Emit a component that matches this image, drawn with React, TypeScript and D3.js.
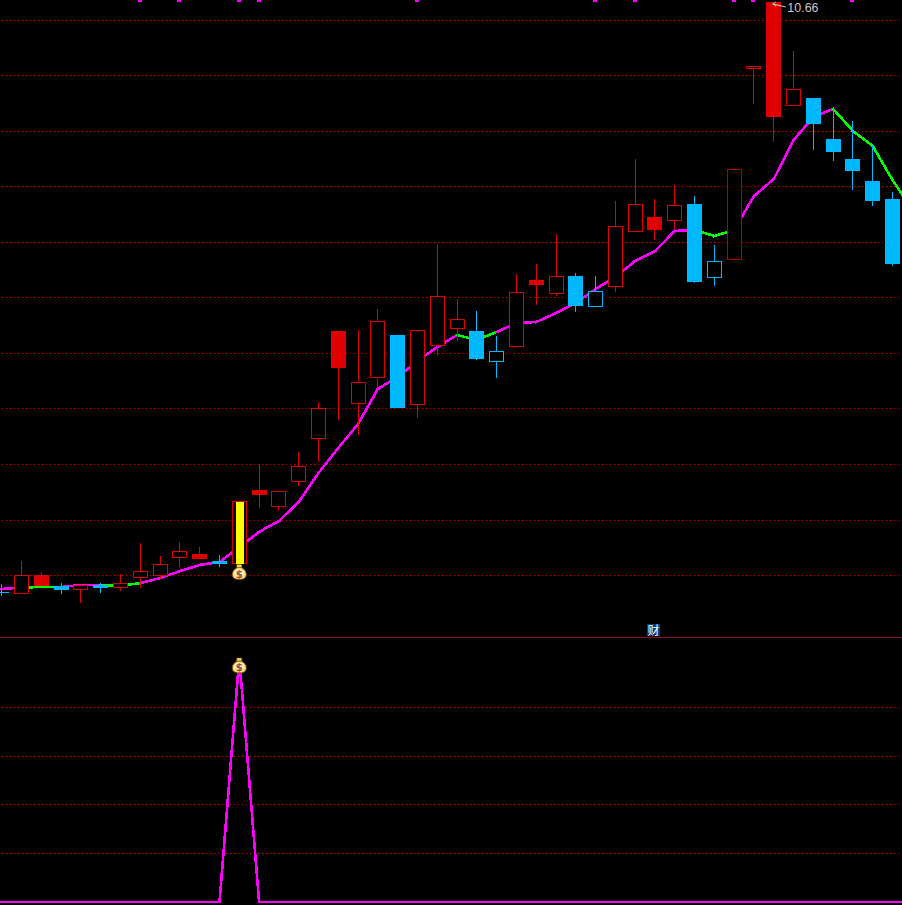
import * as d3 from "d3";

const W = 902;
const H = 905;

// one entry per bar, left to right
const open = [4.76, 4.75, 4.93, 4.82, 4.79, 4.83, 4.81, 4.91, 4.93, 5.11, 5.14, 5.07, 5.05, 5.78, 5.62, 5.87, 6.3, 7.37, 6.65, 6.91, 7.33, 6.64, 7.23, 7.4, 7.37, 7.07, 7.22, 7.88, 7.75, 7.92, 7.62, 7.82, 8.37, 8.51, 8.48, 8.64, 7.91, 8.09, 10.0, 10.66, 9.63, 9.7, 9.29, 9.09, 8.87, 8.69];
const close = [4.76, 4.93, 4.82, 4.78, 4.83, 4.8, 4.85, 4.97, 5.04, 5.17, 5.09, 5.04, 5.67, 5.73, 5.77, 6.02, 6.6, 7.0, 6.86, 7.47, 6.6, 7.38, 7.72, 7.49, 7.09, 7.17, 7.76, 7.83, 7.92, 7.62, 7.77, 8.42, 8.64, 8.38, 8.63, 7.86, 8.07, 8.99, 10.02, 9.51, 9.79, 9.44, 9.16, 8.97, 8.67, 8.04];
const high = [4.84, 5.07, 4.96, 4.85, 4.83, 4.85, 4.94, 5.25, 5.12, 5.26, 5.21, 5.13, 5.67, 6.04, 5.77, 6.16, 6.66, 7.37, 7.38, 7.59, 7.33, 7.38, 8.24, 7.69, 7.57, 7.32, 7.94, 8.04, 8.34, 7.95, 7.92, 8.67, 9.09, 8.69, 8.83, 8.72, 8.23, 8.99, 10.02, 10.66, 10.17, 9.7, 9.59, 9.47, 9.23, 8.76];
const low = [4.72, 4.75, 4.82, 4.74, 4.65, 4.75, 4.77, 4.8, 4.89, 5.01, 5.09, 5.01, 5.05, 5.6, 5.57, 5.82, 6.06, 6.48, 6.33, 6.79, 6.6, 6.5, 7.12, 7.27, 7.08, 6.9, 7.22, 7.63, 7.72, 7.56, 7.62, 7.76, 8.37, 8.28, 8.39, 7.85, 7.82, 8.09, 9.64, 9.26, 9.63, 9.18, 9.07, 8.78, 8.62, 8.02];

const blueBars = [0, 3, 5, 11, 20, 24, 25, 29, 30, 35, 36, 41, 42, 43, 44, 45];
const signalBar = 12;
const dimBar = 37;

// moving line runs one step past the last visible bar
const ma = [4.79, 4.805, 4.81, 4.81, 4.83, 4.83, 4.82, 4.85, 4.9, 4.97, 5.03, 5.06, 5.21, 5.36, 5.47, 5.66, 5.95, 6.2, 6.44, 6.79, 6.91, 7.07, 7.21, 7.33, 7.28, 7.36, 7.45, 7.46, 7.55, 7.65, 7.79, 7.91, 8.07, 8.17, 8.37, 8.38, 8.32, 8.38, 8.72, 8.89, 9.28, 9.51, 9.59, 9.37, 9.22, 8.88, 8.58];
const greenSegments = [1, 2, 5, 6, 23, 24, 35, 36, 42, 43, 44, 45];

const signal = [0, 0, 0, 0, 0, 0, 0, 0, 0, 0, 0, 0, 5, 0, 0, 0, 0, 0, 0, 0, 0, 0, 0, 0, 0, 0, 0, 0, 0, 0, 0, 0, 0, 0, 0, 0, 0, 0, 0, 0, 0, 0, 0, 0, 0, 0, 0];

const markerBars = [7, 9, 12, 13, 21, 30, 32, 37, 38, 43];
const priceGrid = [10.48, 9.93, 9.37, 8.82, 8.26, 7.71, 7.15, 6.6, 6.04, 5.48, 4.93];
const signalGrid = [1, 2, 3, 4];
const maxLabel = "10.66";

const RED = "#e00000";
const BLUE = "#00b8ff";
const GRID = "#b40000";

const x = d3.scaleLinear().domain([0, 46]).range([1.75, 912.32]);
const y = d3.scaleLinear().domain([10.68, 4.68]).range([0, 600]);
const y2 = d3.scaleLinear().domain([0, 5]).range([902, 658]);

const bx = (i: number) => Math.floor(x(i));
const row = (v: number) => Math.round(v) + 0.5;

const maLine = d3
  .line<number>()
  .x((d) => x(d))
  .y((d) => y(ma[d]));

const signalLine = d3.line<number>(
  (_, i) => x(i),
  (d) => y2(d),
);

function Candle({ i }: { i: number }) {
  const isBlue = blueBars.includes(i);
  const hollow = close[i] > open[i];
  const color = isBlue ? BLUE : i === dimBar ? "#b00000" : RED;
  const cx = bx(i);
  const top = Math.round(y(Math.max(open[i], close[i])));
  const bottom = Math.round(y(Math.min(open[i], close[i])));
  return (
    <g shapeRendering="crispEdges">
      <line x1={cx + 0.5} x2={cx + 0.5} y1={y(high[i])} y2={y(low[i])} stroke={color} strokeWidth={1} />
      {hollow ? (
        <rect x={cx - 6.5} y={top + 0.5} width={14} height={bottom - top} fill="#000" stroke={color} strokeWidth={1} />
      ) : (
        <rect x={cx - 7} y={top} width={15} height={Math.max(bottom - top, 1)} fill={color} />
      )}
      {i === signalBar && <rect x={cx - 3} y={top + 1} width={8} height={bottom - top} fill="#ffff00" />}
    </g>
  );
}

function MoneyBag({ cx, cy }: { cx: number; cy: number }) {
  return (
    <g transform={`translate(${cx},${cy})`}>
      <path d="M-2,-5 L2,-5 C6,-3 7.5,0 7,3 C6.5,6.5 3,7 0,7 C-3,7 -6.5,6.5 -7,3 C-7.5,0 -6,-3 -2,-5 Z" fill="url(#bagFill)" stroke="#6a4010" strokeWidth={0.9} />
      <rect x={-2.5} y={-8} width={5} height={3} fill="#f6d83c" stroke="#8a5a20" strokeWidth={0.6} />
      <text x={0} y={5} textAnchor="middle" fontFamily="DejaVu Sans" fontSize={10} fontWeight="bold" fill="#964a3a">
        $
      </text>
    </g>
  );
}

export default function App() {
  const bars = d3.range(open.length);
  const maxBar = high.indexOf(d3.max(high) as number);
  const peakX = x(maxBar);
  const peakY = y(high[maxBar]);

  return (
    <>
      <style>{"html,body{margin:0;padding:0;background:#000}"}</style>
      <svg width={W} height={H} viewBox={`0 0 ${W} ${H}`} style={{ display: "block", background: "#000" }}>
        <defs>
          <radialGradient id="bagFill">
            <stop offset="0%" stopColor="#fff6d0" />
            <stop offset="65%" stopColor="#fdeea8" />
            <stop offset="100%" stopColor="#f2c448" />
          </radialGradient>
        </defs>

        {/* grid */}
        <g stroke={GRID} strokeWidth={1} strokeDasharray="1 3">
          {priceGrid.map((p) => (
            <line key={p} x1={2} x2={W} y1={row(y(p))} y2={row(y(p))} />
          ))}
          {signalGrid.map((v) => (
            <line key={v} x1={2} x2={W} y1={row(y2(v))} y2={row(y2(v))} />
          ))}
        </g>
        <line x1={0} x2={W} y1={637.5} y2={637.5} stroke="#8c1010" />

        {/* top markers */}
        <g fill="#ff00ff" shapeRendering="crispEdges">
          {markerBars.map((b) => (
            <rect key={b} x={bx(b) - 2} y={0} width={4} height={2} />
          ))}
        </g>

        {/* moving line */}
        <g fill="none" strokeWidth={2.6} shapeRendering="crispEdges">
          {ma.slice(1).map((_, s) => (
            <path key={s} d={maLine([s, s + 1]) as string} stroke={greenSegments.includes(s) ? "#00ff00" : "#ff00ff"} strokeLinecap="square" />
          ))}
        </g>

        {bars.map((i) => (
          <Candle key={i} i={i} />
        ))}

        <MoneyBag cx={x(signalBar)} cy={y(low[signalBar]) + 9.5} />

        {/* highest price */}
        <g>
          <path d={`M${peakX + 12},${peakY + 5} L${peakX - 1},${peakY + 2} M${peakX - 1},${peakY + 2} L${peakX + 2},${peakY} M${peakX - 1},${peakY + 2} L${peakX + 2},${peakY + 4}`} stroke="#d0d0d0" fill="none" strokeWidth={1} />
          <text x={peakX + 13.5} y={12} fontFamily="Liberation Sans" fontSize={12.5} fill="#c8c8c8">
            {maxLabel}
          </text>
        </g>

        {/* tag on the divider */}
        <rect x={647} y={624} width={13} height={12} fill="#0a3c78" shapeRendering="crispEdges" />
        <text x={653.5} y={634.5} textAnchor="middle" fontFamily="Noto Sans CJK SC" fontSize={12} fill="#fff">
          财
        </text>

        {/* lower pane */}
        <path d={signalLine(signal) as string} fill="none" stroke="#ff00ff" strokeWidth={2.6} strokeLinecap="square" shapeRendering="crispEdges" />
        <MoneyBag cx={x(signalBar)} cy={y2(signal[signalBar]) + 8} />
      </svg>
    </>
  );
}
